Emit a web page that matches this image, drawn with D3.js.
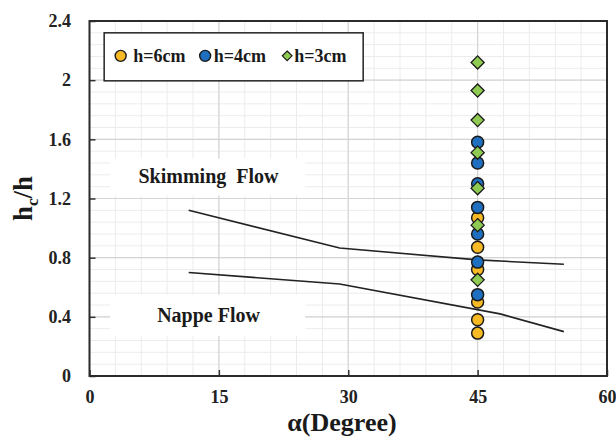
<!DOCTYPE html>
<html>
<head>
<meta charset="utf-8">
<script src="https://cdn.jsdelivr.net/npm/d3@7"></script>
<style>
    body { margin: 0; background: #fff; }
    svg text { font-family: "Liberation Serif", "Times New Roman", serif; font-weight: bold; white-space: pre; }
</style>
</head>
<body>
<svg id="drawing_region"></svg>
<script>
// all measurements taken at alpha = 45 degrees
const series_names = ["h=6cm", "h=4cm", "h=3cm"];
const series_colors = ["#f7b924", "#1f6fc0", "#8fcb52"];
const h6_values = [1.07, 0.87, 0.72, 0.50, 0.38, 0.29];
const h4_values = [1.58, 1.44, 1.30, 1.14, 0.96, 0.77, 0.55];
const h3_values = [2.12, 1.93, 1.73, 1.51, 1.27, 1.02, 0.65];
const point_alpha = 45;

// boundary lines between the flow regimes
const upper_alpha = [11.5, 29, 45, 55];
const upper_ratio = [1.12, 0.865, 0.785, 0.755];
const lower_alpha = [11.5, 29, 47.6, 55];
const lower_ratio = [0.70, 0.622, 0.42, 0.30];

const x_ticks = [0, 15, 30, 45, 60];
const y_ticks = [0, 0.4, 0.8, 1.2, 1.6, 2, 2.4];

var config = {
    parent: '#drawing_region',
    width: 616,
    height: 437,
    margin: {top:21, right:9, bottom:61, left:89.5}
};

const svg = d3.select( config.parent )
    .attr('width', config.width)
    .attr('height', config.height);

const inner_width = config.width - config.margin.left - config.margin.right;
const inner_height = config.height - config.margin.top - config.margin.bottom;

const chart = svg.append('g')
    .attr('transform', `translate(${config.margin.left}, ${config.margin.top})`);

const xscale = d3.scaleLinear().domain([0, 60]).range([0, inner_width]);
const yscale = d3.scaleLinear().domain([0, 2.4]).range([inner_height, 0]);

// minor grid (5 per major step), then major grid
const grid = chart.append('g');
grid.selectAll('.minor-x')
    .data(d3.range(0, 61, 3))
    .join('line')
    .attr('x1', d => xscale(d)).attr('x2', d => xscale(d))
    .attr('y1', 0).attr('y2', inner_height)
    .attr('stroke', '#ececec').attr('stroke-width', 1);
grid.selectAll('.minor-y')
    .data(d3.range(0, 31).map(i => i * 0.08))
    .join('line')
    .attr('x1', 0).attr('x2', inner_width)
    .attr('y1', d => yscale(d)).attr('y2', d => yscale(d))
    .attr('stroke', '#ececec').attr('stroke-width', 1);
grid.append('g').selectAll('line')
    .data(x_ticks)
    .join('line')
    .attr('x1', d => xscale(d)).attr('x2', d => xscale(d))
    .attr('y1', 0).attr('y2', inner_height)
    .attr('stroke', '#d4d4d4').attr('stroke-width', 1.2);
grid.append('g').selectAll('line')
    .data(y_ticks)
    .join('line')
    .attr('x1', 0).attr('x2', inner_width)
    .attr('y1', d => yscale(d)).attr('y2', d => yscale(d))
    .attr('stroke', '#d4d4d4').attr('stroke-width', 1.2);

// white boxes behind the regime labels
const labels = [
    {text: "Skimming  Flow", r: 1.305, r0: 1.22, r1: 1.47},
    {text: "Nappe Flow", r: 0.365, r0: 0.27, r1: 0.55}
];
chart.selectAll('.label-box')
    .data(labels)
    .join('rect')
    .attr('x', xscale(2.4))
    .attr('y', d => yscale(d.r1))
    .attr('width', xscale(25) - xscale(2.4))
    .attr('height', d => yscale(d.r0) - yscale(d.r1))
    .attr('fill', '#fff');
chart.selectAll('.label-text')
    .data(labels)
    .join('text')
    .attr('x', xscale(13.8))
    .attr('y', d => yscale(d.r))
    .attr('text-anchor', 'middle')
    .attr('font-size', '20px')
    .attr('fill', '#1a1a1a')
    .text(d => d.text);

// boundary lines
const line = d3.line()
    .x(d => xscale(d[0]))
    .y(d => yscale(d[1]));
chart.append('path')
    .datum(d3.zip(upper_alpha, upper_ratio))
    .attr('d', line)
    .attr('fill', 'none').attr('stroke', '#222').attr('stroke-width', 1.6);
chart.append('path')
    .datum(d3.zip(lower_alpha, lower_ratio))
    .attr('d', line)
    .attr('fill', 'none').attr('stroke', '#222').attr('stroke-width', 1.6);

// axes with inward ticks
const xaxis = d3.axisBottom(xscale).tickValues(x_ticks).tickSizeInner(-6).tickSizeOuter(0).tickPadding(14);
const yaxis = d3.axisLeft(yscale).tickValues(y_ticks).tickSizeInner(-6).tickSizeOuter(0).tickPadding(18.5)
    .tickFormat(d => d3.format('~g')(d));

const xaxis_group = chart.append('g')
    .attr('transform', `translate(0, ${inner_height})`)
    .call(xaxis);
const yaxis_group = chart.append('g')
    .call(yaxis);
[xaxis_group, yaxis_group].forEach(g => {
    g.select('.domain').remove();
    g.selectAll('.tick line').attr('stroke', '#333').attr('stroke-width', 1.5);
    g.selectAll('.tick text')
        .attr('font-size', '18px')
        .attr('fill', '#222')
        .attr('font-family', '"Liberation Serif", serif');
});

// frame
chart.append('rect')
    .attr('x', 0).attr('y', 0)
    .attr('width', inner_width).attr('height', inner_height)
    .attr('fill', 'none')
    .attr('stroke', '#2b2b2b')
    .attr('stroke-width', 2);

// points: 6cm, then 4cm, then 3cm on top
const diamond = d3.symbol().type(d3.symbolDiamond2).size(110);
const all_series = [h6_values, h4_values, h3_values];
all_series.forEach((values, i) => {
    const g = chart.append('g');
    if (i < 2) {
        g.selectAll('circle')
            .data(values)
            .join('circle')
            .attr('cx', xscale(point_alpha))
            .attr('cy', d => yscale(d))
            .attr('r', 6)
            .attr('fill', series_colors[i])
            .attr('stroke', '#1a1a1a')
            .attr('stroke-width', 1.5);
    } else {
        g.selectAll('path')
            .data(values)
            .join('path')
            .attr('transform', d => `translate(${xscale(point_alpha)}, ${yscale(d)})`)
            .attr('d', diamond)
            .attr('fill', series_colors[i])
            .attr('stroke', '#1a1a1a')
            .attr('stroke-width', 1.3);
    }
});

// legend
const legend = chart.append('g')
    .attr('transform', `translate(${xscale(1.7)}, ${yscale(2.32)})`);
legend.append('rect')
    .attr('width', 259).attr('height', 48)
    .attr('fill', '#fff')
    .attr('stroke', '#222')
    .attr('stroke-width', 1.5);
const item_x = [16.5, 101, 183];
series_names.forEach((name, i) => {
    const item = legend.append('g')
        .attr('transform', `translate(${item_x[i]}, 23)`);
    if (i < 2) {
        item.append('circle').attr('r', 5.5)
            .attr('fill', series_colors[i]).attr('stroke', '#1a1a1a').attr('stroke-width', 1.4);
    } else {
        item.append('path')
            .attr('d', d3.symbol().type(d3.symbolDiamond2).size(60))
            .attr('fill', series_colors[i]).attr('stroke', '#1a1a1a').attr('stroke-width', 1.2);
    }
    item.append('text')
        .attr('x', i === 0 ? 12.5 : (i === 1 ? 8.5 : 7))
        .attr('y', 6.5)
        .attr('font-size', '18px')
        .attr('fill', '#1a1a1a')
        .text(name);
});

// axis titles
svg.append('text')
    .attr('x', 342)
    .attr('y', 431)
    .attr('text-anchor', 'middle')
    .attr('font-size', '26px')
    .attr('fill', '#1a1a1a')
    .text('α(Degree)');

const ylabel = svg.append('text')
    .attr('transform', `translate(32, ${config.margin.top + yscale(1.2)}) rotate(-90)`)
    .attr('text-anchor', 'middle')
    .attr('font-size', '27px')
    .attr('fill', '#1a1a1a');
ylabel.append('tspan').text('h');
ylabel.append('tspan').attr('font-size', '17px').attr('dy', 6).text('c');
ylabel.append('tspan').attr('dy', -6).text('/h');
</script>
</body>
</html>
